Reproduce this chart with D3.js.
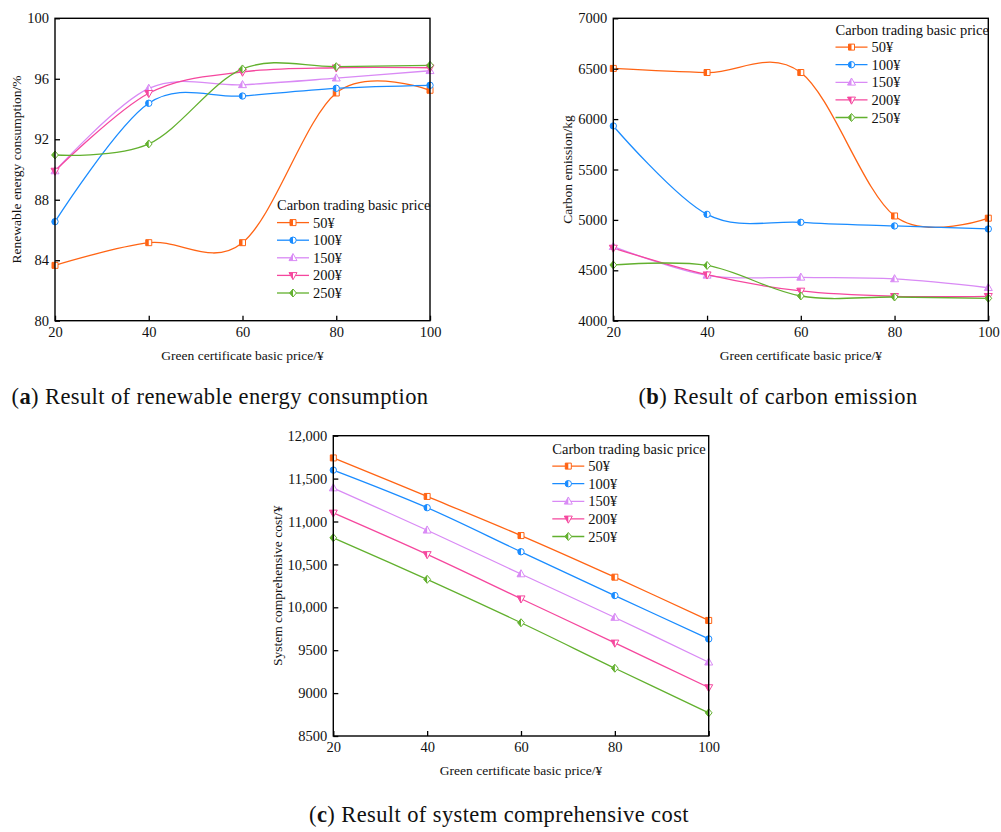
<!DOCTYPE html>
<html>
<head>
<meta charset="utf-8">
<script src="https://cdn.jsdelivr.net/npm/d3@7"></script>
<style>
  body { margin: 0; background: #fff; }
  svg { display: block; }
</style>
</head>
<body>
<div id="chart"></div>
<script>
var width = 1001, height = 832

// x values (green certificate basic price)
const greenPrices = [20, 40, 60, 80, 100]
// legend entries (carbon trading basic price)
const carbonPrices = ["50¥", "100¥", "150¥", "200¥", "250¥"]

// (a) renewable energy consumption, %
const renewable50 = [83.66, 85.16, 85.16, 95.06, 95.24]
const renewable100 = [86.55, 94.38, 94.86, 95.37, 95.57]
const renewable150 = [89.9, 95.36, 95.6, 96.04, 96.53]
const renewable200 = [89.9, 95.04, 96.45, 96.73, 96.73]
const renewable250 = [90.96, 91.69, 96.65, 96.8, 96.89]
const renewableTicks = [80, 84, 88, 92, 96, 100]

// (b) carbon emission, kg
const emission50 = [6503, 6462, 6462, 5039, 5017]
const emission100 = [5932, 5055, 4976, 4940, 4910]
const emission150 = [4734, 4450, 4430, 4414, 4327]
const emission200 = [4721, 4456, 4295, 4242, 4242]
const emission250 = [4553, 4548, 4245, 4235, 4222]
const emissionTicks = [4000, 4500, 5000, 5500, 6000, 6500, 7000]

// (c) system comprehensive cost, ¥
const cost50 = [11741, 11292, 10836, 10351, 9847]
const cost100 = [11599, 11161, 10647, 10137, 9631]
const cost150 = [11390, 10898, 10388, 9881, 9360]
const cost200 = [11100, 10616, 10100, 9585, 9065]
const cost250 = [10810, 10326, 9820, 9290, 8770]
const costTicks = [8500, 9000, 9500, 10000, 10500, 11000, 11500, 12000]
const costTickLabels = ["8500", "9000", "9500", "10,000", "10,500", "11,000", "11,500", "12,000"]

const colors = ["#ff6414", "#1a8cff", "#d98af5", "#f5479e", "#62b02e"]
const shapes = ["square", "circle", "triangleUp", "triangleDown", "diamond"]

const serif = "'Liberation Serif', 'Times New Roman', serif"

const svg = d3.select('#chart')
	.append('svg')
	.attr('width', width)
	.attr('height', height)
	.style('font-family', serif)

// half filled marker shapes: full outline + left half filled
function markerPaths(shape) {
	if (shape == "square") return {
		full: "M-3,-3H3V3H-3Z", half: "M-3,-3H0V3H-3Z" }
	if (shape == "circle") return {
		full: "M0,-3.2A3.2,3.2 0 1,1 0,3.2A3.2,3.2 0 1,1 0,-3.2Z",
		half: "M0,-3.2A3.2,3.2 0 0,0 0,3.2Z" }
	if (shape == "triangleUp") return {
		full: "M0,-4.3L4,2.8L-4,2.8Z", half: "M0,-4.3L-4,2.8L0,2.8Z" }
	if (shape == "triangleDown") return {
		full: "M0,4.3L4,-2.8L-4,-2.8Z", half: "M0,4.3L-4,-2.8L0,-2.8Z" }
	return {
		full: "M0,-4L3.4,0L0,4L-3.4,0Z", half: "M0,-4L-3.4,0L0,4Z" }
}

function drawMarker(g, x, y, i) {
	const p = markerPaths(shapes[i])
	const m = g.append("g").attr("transform", `translate(${x},${y})`)
	m.append("path").attr("d", p.full)
		.attr("fill", "#fff").attr("stroke", colors[i]).attr("stroke-width", 1)
	m.append("path").attr("d", p.half).attr("fill", colors[i])
}

function drawPanel(cfg) {
	const x = d3.scaleLinear().domain([20, 100]).range([cfg.left, cfg.right])
	const y = d3.scaleLinear().domain(cfg.domain).range([cfg.bottom, cfg.top])

	const g = svg.append("g")

	// lines (spline through the points)
	const line = d3.line()
		.x((d, i) => x(greenPrices[i]))
		.y(d => y(d))
		.curve(d3.curveCardinal.tension(0))

	cfg.series.forEach((values, i) => {
		g.append("path")
			.attr("d", line(values))
			.attr("fill", "none")
			.attr("stroke", colors[i])
			.attr("stroke-width", 1.3)
	})
	cfg.series.forEach((values, i) => {
		values.forEach((v, j) => drawMarker(g, x(greenPrices[j]), y(v), i))
	})

	// axes with inward ticks
	const xAxis = g.append("g")
		.attr("transform", `translate(0,${cfg.bottom})`)
		.call(d3.axisBottom(x).tickValues(greenPrices).tickSizeInner(-5).tickSizeOuter(0).tickPadding(6))
	const yAxis = g.append("g")
		.attr("transform", `translate(${cfg.left},0)`)
		.call(d3.axisLeft(y).tickValues(cfg.ticks).tickSizeInner(-5).tickSizeOuter(0).tickPadding(6)
			.tickFormat((d, i) => cfg.tickLabels ? cfg.tickLabels[i] : d))

	;[xAxis, yAxis].forEach(a => {
		a.select(".domain").remove()
		a.selectAll("line").attr("stroke", "#000").attr("stroke-width", 1.3)
		a.selectAll("text").attr("fill", "#111").style("font-size", "14.5px").style("font-family", serif)
	})

	// frame
	g.append("rect")
		.attr("x", cfg.left).attr("y", cfg.top)
		.attr("width", cfg.right - cfg.left).attr("height", cfg.bottom - cfg.top)
		.attr("fill", "none").attr("stroke", "#000").attr("stroke-width", 1.4)

	// axis titles
	g.append("text")
		.attr("x", (cfg.left + cfg.right) / 2).attr("y", cfg.bottom + 39)
		.attr("text-anchor", "middle").style("font-size", "13.5px").attr("fill", "#111")
		.text("Green certificate basic price/¥")
	g.append("text")
		.attr("transform", `translate(${cfg.yTitleX},${(cfg.top + cfg.bottom) / 2}) rotate(-90)`)
		.attr("text-anchor", "middle").style("font-size", "13.5px").attr("fill", "#111")
		.text(cfg.yTitle)

	// legend
	const lg = g.append("g").attr("transform", `translate(${cfg.legendX},${cfg.legendY})`)
	lg.append("text").attr("x", 0).attr("y", 0).attr("dy", "0.35em")
		.style("font-size", "14.5px").attr("fill", "#111")
		.text("Carbon trading basic price")
	carbonPrices.forEach((name, i) => {
		const yy = 17.6 * (i + 1)
		lg.append("line").attr("x1", 0).attr("x2", 32).attr("y1", yy).attr("y2", yy)
			.attr("stroke", colors[i]).attr("stroke-width", 1.3)
		drawMarker(lg, 16, yy, i)
		lg.append("text").attr("x", 36).attr("y", yy).attr("dy", "0.35em")
			.style("font-size", "14.5px").attr("fill", "#111").text(name)
	})

	// caption
	const cap = svg.append("text")
		.attr("x", cfg.capX).attr("y", cfg.capY)
		.attr("text-anchor", "middle")
		.style("font-size", "22.5px").style("letter-spacing", "0.4px").attr("fill", "#111")
	cap.append("tspan").text("(")
	cap.append("tspan").attr("font-weight", "bold").text(cfg.capLetter)
	cap.append("tspan").text(") " + cfg.caption)
}

drawPanel({
	left: 55, right: 430, top: 18.3, bottom: 320.7,
	domain: [80, 100], ticks: renewableTicks,
	series: [renewable50, renewable100, renewable150, renewable200, renewable250],
	yTitle: "Renewable energy consumption/%", yTitleX: 21,
	legendX: 277, legendY: 205,
	capX: 220, capY: 404, capLetter: "a", caption: "Result of renewable energy consumption"
})

drawPanel({
	left: 613.3, right: 988.3, top: 18.3, bottom: 320.7,
	domain: [4000, 7000], ticks: emissionTicks,
	series: [emission50, emission100, emission150, emission200, emission250],
	yTitle: "Carbon emission/kg", yTitleX: 572,
	legendX: 835.5, legendY: 29.5,
	capX: 778, capY: 404, capLetter: "b", caption: "Result of carbon emission"
})

drawPanel({
	left: 333.3, right: 708.7, top: 435.7, bottom: 736,
	domain: [8500, 12000], ticks: costTicks, tickLabels: costTickLabels,
	series: [cost50, cost100, cost150, cost200, cost250],
	yTitle: "System comprehensive cost/¥", yTitleX: 282,
	legendX: 552.3, legendY: 448.5,
	capX: 499, capY: 822, capLetter: "c", caption: "Result of system comprehensive cost"
})
</script>
</body>
</html>
